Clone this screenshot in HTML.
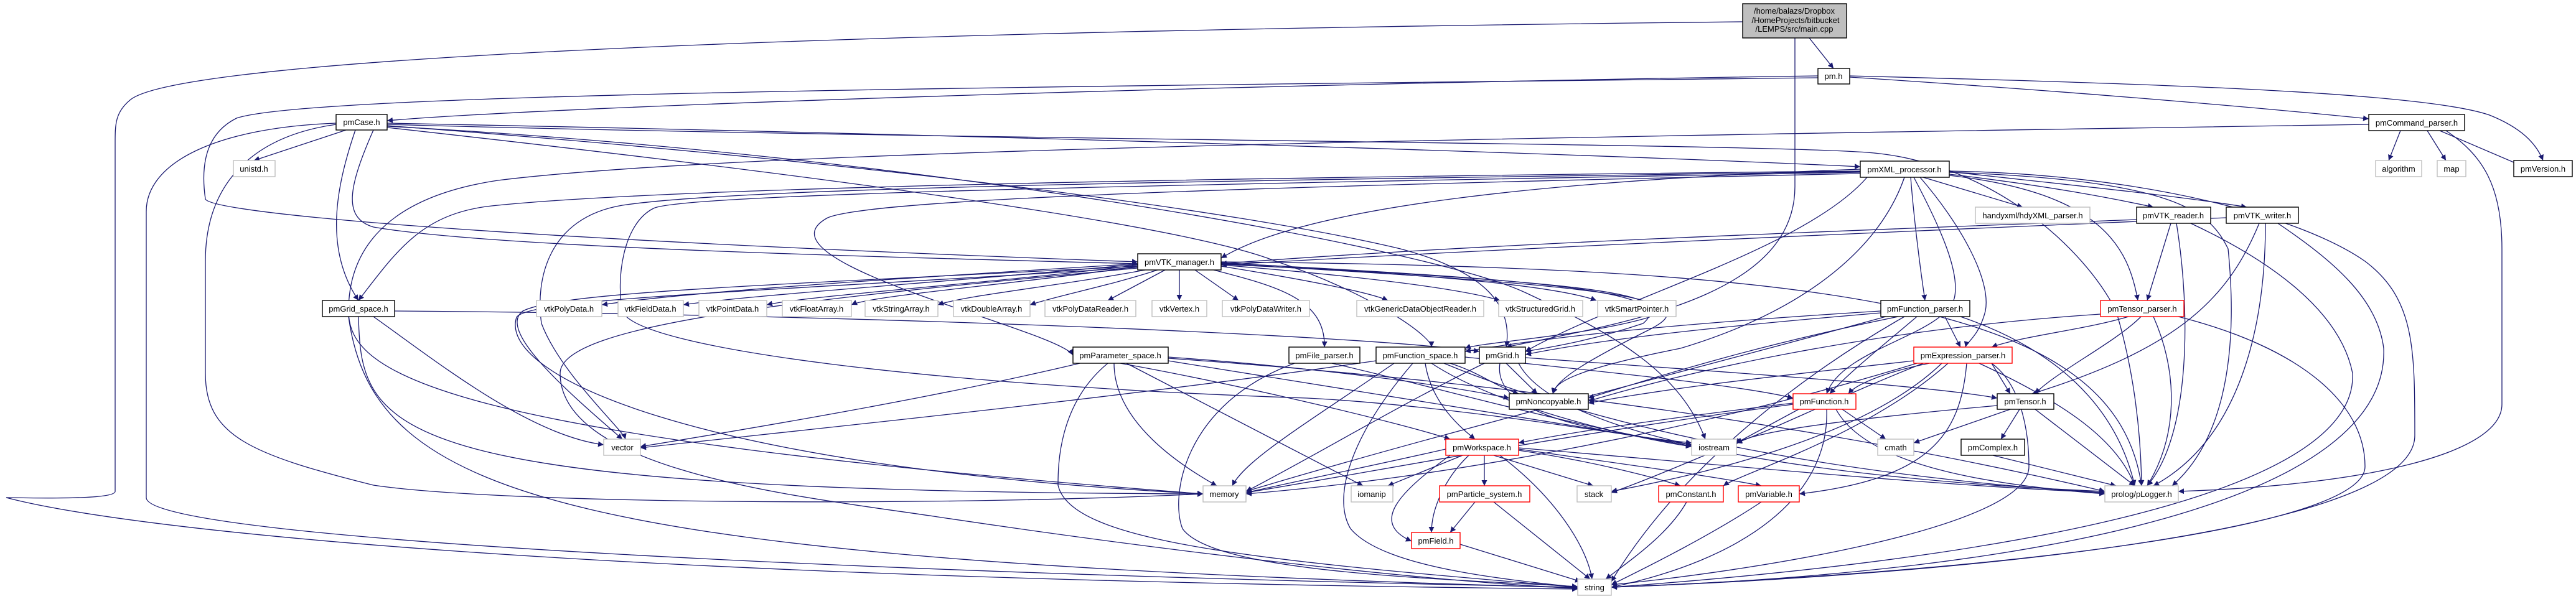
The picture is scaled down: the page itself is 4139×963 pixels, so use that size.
<!DOCTYPE html>
<html><head><meta charset="utf-8"><style>
html,body{margin:0;padding:0;background:#fff;width:4139px;height:963px;overflow:hidden}
svg{display:block}
text{font-family:"Liberation Sans",sans-serif;font-size:13px;fill:#000;text-anchor:middle}
.e{fill:none;stroke:#191970;stroke-width:1.3}
.b{fill:#fff;stroke:#000;stroke-width:1.4}
.g{fill:#fff;stroke:#bfbfbf;stroke-width:1.4}
.r{fill:#fff;stroke:#ff0000;stroke-width:1.4}
</style></head><body>
<svg width="4139" height="963" viewBox="0 0 4139 963" xmlns="http://www.w3.org/2000/svg">
<defs><marker id="a" viewBox="0 0 10 10" refX="10" refY="5" markerWidth="9" markerHeight="9" markerUnits="userSpaceOnUse" orient="auto"><path d="M0,0 L10,5 L0,10 z" fill="#191970"/></marker></defs>
<g class="e" marker-end="url(#a)">
<!-- main -->
<path d="M2907,61 L2946,110"/>
<path d="M2800,35 C1400,50 300,90 210,160 C185,180 185,200 185,230 L185,790 C185,800 120,802 10,800 C200,850 900,930 2535,947"/>
<path d="M2884,61 L2884,300 C2884,480 2600,520 2420,558"/>
<!-- pm -->
<path d="M2921,122 C2000,135 900,170 622,194"/>
<path d="M2972,124 C3300,145 3600,170 3806,191"/>
<path d="M2972,122 C3500,135 3900,150 4000,185 C4050,205 4075,230 4086,258"/>
<path d="M2921,125 C1600,140 500,150 380,190 C340,210 320,250 330,320 C340,340 700,380 1828,421"/>
<!-- pmCase -->
<path d="M556,209 L408,258"/>
<path d="M540,198 C350,205 235,260 235,340 L235,800 C235,870 1500,925 2535,944"/>
<path d="M571,209 C540,300 520,400 576,483"/>
<path d="M600,209 C560,300 550,350 600,365 C800,400 1500,415 1828,424"/>
<path d="M622,198 C1500,215 2500,245 2989,268"/>
<path d="M622,200 C1500,225 2800,230 3000,245 C3200,260 3350,400 3400,500 C3430,600 3440,700 3441,781"/>
<path d="M622,203 C1500,250 2300,400 2450,470 C2600,540 2700,600 2740,706"/>
<path d="M622,202 C1400,260 2000,340 2250,400 C2400,440 2430,500 2420,558"/>
<path d="M540,200 C400,220 330,300 330,420 L330,600 C330,700 400,730 600,780 C800,810 1500,815 1933,794"/>
<path d="M622,205 C1300,280 1900,360 2050,420 C2200,470 2300,540 2300,558"/>
<!-- cmd -->
<path d="M3857,210 L3838,258"/>
<path d="M3900,210 L3930,258"/>
<path d="M3920,210 L4060,270"/>
<path d="M3930,210 C3990,250 4020,300 4020,400 L4020,650 C4020,730 3800,780 3500,790"/>
<path d="M3806,200 C2500,220 1200,240 800,290 C600,320 560,420 560,500 C560,600 700,700 1933,794"/>
<!-- xml -->
<path d="M3090,285 L3250,333"/>
<path d="M3132,280 C3300,300 3400,320 3460,333"/>
<path d="M3132,276 C3350,300 3500,315 3610,333"/>
<path d="M3070,285 C3075,350 3085,430 3093,483"/>
<path d="M3132,282 C3380,310 3420,400 3435,483"/>
<path d="M3085,285 C3150,360 3200,450 3190,500 C3180,540 3160,550 3158,558"/>
<path d="M3075,285 C3120,370 3150,440 3140,480 C3120,540 2960,560 2935,633"/>
<path d="M3132,277 C3500,290 3550,340 3580,400 C3600,600 3560,720 3490,781"/>
<path d="M3132,275 C3450,280 3700,350 3800,420 C3880,480 3880,560 3880,700 C3880,870 3000,930 2589,944"/>
<path d="M2989,272 C2500,290 2100,330 1962,415"/>
<path d="M2989,275 C2000,285 1100,300 800,330 C680,340 640,400 576,483"/>
<path d="M2989,276 C2000,290 1200,300 1000,330 C880,350 860,450 870,520 C900,600 1000,690 1005,706"/>
<path d="M2989,277 C2000,295 1100,310 1050,335 C1000,360 990,450 1000,500 C1020,560 1500,620 2100,640 C2300,650 2560,690 2718,715"/>
<path d="M3060,285 C3020,400 2900,500 2700,560 C2500,600 2500,620 2495,633"/>
<path d="M2989,279 C2000,300 1400,320 1330,350 C1200,420 1700,530 1724,571"/>
<path d="M3000,285 C2900,400 2600,480 2451,565"/>
<!-- vtk reader/writer -->
<path d="M3433,353 C3000,370 2400,390 1962,424"/>
<path d="M3577,350 C3100,370 2400,400 1962,426"/>
<path d="M3488,359 L3450,483"/>
<path d="M3497,359 C3520,500 3520,700 3450,781"/>
<path d="M3520,359 C3650,420 3760,500 3780,600 C3790,800 3200,900 2589,944"/>
<path d="M3630,359 C3580,480 3500,560 3265,633"/>
<path d="M3640,359 C3640,500 3610,700 3460,781"/>
<path d="M3660,359 C3750,420 3820,480 3830,560 C3840,800 3300,920 2589,944"/>
<!-- vtk manager -->
<path d="M1828,424 C1400,450 1100,470 967,490"/>
<path d="M1828,425 C1500,455 1200,475 1098,490"/>
<path d="M1828,426 C1600,455 1300,475 1232,490"/>
<path d="M1828,428 C1650,455 1400,475 1368,490"/>
<path d="M1840,434 C1700,460 1550,475 1507,490"/>
<path d="M1860,434 C1780,460 1700,475 1655,490"/>
<path d="M1872,434 L1780,483"/>
<path d="M1895,434 L1895,483"/>
<path d="M1920,434 L1990,483"/>
<path d="M1962,428 C2100,450 2200,470 2230,483"/>
<path d="M1962,426 C2200,445 2350,465 2410,483"/>
<path d="M1962,425 C2300,440 2500,460 2565,483"/>
<path d="M1950,434 C2050,460 2130,480 2128,558"/>
<path d="M1828,428 C1200,460 900,470 840,500 C800,530 900,620 1000,706"/>
<path d="M1828,430 C1200,470 850,480 830,510 C800,600 1100,750 1933,794"/>
<path d="M1962,421 C3000,430 3400,500 3441,781"/>
<path d="M1962,423 C2500,450 2700,470 2640,520 C2550,550 2480,560 2451,565"/>
<path d="M1962,424 C2600,460 2750,480 2650,530 C2550,580 2500,610 2495,633"/>
<path d="M1962,422 C2400,450 2700,460 2650,510 C2550,540 2380,550 2354,560"/>
<path d="M1828,431 C1300,480 900,520 900,600 C900,760 1300,800 1500,830 C1900,890 2300,935 2535,946"/>
<!-- grid space -->
<path d="M600,509 C700,580 850,700 970,715"/>
<path d="M576,509 C580,700 620,790 1933,794"/>
<path d="M634,500 C1400,505 2200,540 2377,565"/>
<path d="M560,509 C600,800 900,900 2535,945"/>
<!-- function parser -->
<path d="M3125,509 L3150,558"/>
<path d="M3080,509 C3020,560 2970,600 2940,633"/>
<path d="M3022,500 C2700,520 2500,540 2354,565"/>
<path d="M3022,503 C2700,530 2550,550 2451,570"/>
<path d="M3050,509 C2800,560 2650,610 2552,640"/>
<path d="M3150,509 C3300,560 3400,650 3430,781"/>
<path d="M3060,509 C2900,600 2700,750 2589,935"/>
<path d="M3030,509 C2700,600 2300,700 2002,790"/>
<!-- tensor parser -->
<path d="M3420,509 C3350,530 3250,540 3200,558"/>
<path d="M3440,509 C3400,550 3300,600 3270,633"/>
<path d="M3460,509 C3500,600 3500,700 3450,781"/>
<path d="M3500,509 C3700,560 3800,650 3800,750 C3800,850 3200,920 2589,944"/>
<path d="M3375,505 C3000,530 2700,600 2552,645"/>
<!-- parameter space -->
<path d="M1735,584 C1500,640 1200,690 1029,718"/>
<path d="M1790,584 C1790,680 1900,750 1955,781"/>
<path d="M1810,584 L2190,781"/>
<path d="M1780,584 C1700,650 1700,750 1700,780 C1720,870 2000,900 2535,944"/>
<path d="M1800,584 C2000,620 2250,680 2330,706"/>
<path d="M1877,580 C2200,630 2500,680 2718,715"/>
<path d="M1877,576 C2500,620 3000,700 3382,790"/>
<path d="M1877,574 C2100,590 2300,615 2425,640"/>
<!-- file parser -->
<path d="M2080,584 C1900,650 1880,800 1900,850 C1950,920 2300,930 2535,943"/>
<path d="M2140,584 C2300,620 2500,680 2718,717"/>
<!-- function space -->
<path d="M2290,584 C2300,650 2350,690 2370,706"/>
<path d="M2240,584 C2100,680 2000,740 1980,781"/>
<path d="M2270,584 C2170,700 2140,800 2170,850 C2220,910 2400,930 2535,944"/>
<path d="M2211,580 C1800,640 1300,690 1029,720"/>
<path d="M2300,584 C2400,650 2600,700 2718,718"/>
<path d="M2320,584 C2600,700 3000,770 3382,792"/>
<path d="M2330,584 C2380,600 2400,620 2440,633"/>
<path d="M2354,574 C2600,600 2800,620 2881,640"/>
<!-- grid -->
<path d="M2420,584 L2470,633"/>
<path d="M2451,575 C2800,600 3100,620 3209,640"/>
<path d="M2410,584 C2400,650 2500,690 2718,712"/>
<path d="M2385,584 C2250,650 2100,740 2002,790"/>
<path d="M2440,584 C2500,700 2900,770 3382,790"/>
<!-- expression parser -->
<path d="M3100,584 C3020,600 2980,620 2970,633"/>
<path d="M3075,580 C2900,600 2700,620 2552,648"/>
<path d="M3200,584 L3230,633"/>
<path d="M3090,584 C2950,640 2850,690 2790,712"/>
<path d="M3080,584 C2700,700 2300,770 2002,794"/>
<path d="M3120,584 C3000,700 2750,760 2589,790"/>
<path d="M3130,584 C3000,700 2800,760 2769,781"/>
<path d="M3160,584 C3150,700 3100,770 2891,794"/>
<path d="M3180,584 C3300,640 3400,700 3430,781"/>
<path d="M3200,584 C3250,620 3260,700 3260,750 C3260,850 2800,920 2589,940"/>
<!-- function -->
<path d="M2960,658 L3030,706"/>
<path d="M2950,658 C3000,750 3200,780 3382,794"/>
<path d="M2935,658 C2940,800 2800,900 2589,944"/>
<path d="M2890,658 L2790,712"/>
<path d="M2881,650 C2500,700 2200,760 2002,792"/>
<path d="M2881,648 C2700,670 2550,690 2440,712"/>
<!-- tensor -->
<path d="M3230,658 L3075,712"/>
<path d="M3245,658 L3215,706"/>
<path d="M3270,658 L3430,781"/>
<path d="M3209,652 C2900,680 2800,700 2790,714"/>
<path d="M3202,732 L3400,781"/>
<!-- workspace -->
<path d="M2385,732 L2385,781"/>
<path d="M2360,732 C2320,770 2300,820 2300,856"/>
<path d="M2400,732 L2560,781"/>
<path d="M2410,732 C2500,800 2550,880 2558,931"/>
<path d="M2350,732 L2230,781"/>
<path d="M2323,722 C2200,750 2100,770 2002,792"/>
<path d="M2440,724 C2550,740 2650,765 2700,781"/>
<path d="M2440,722 C2600,745 2750,765 2830,781"/>
<path d="M2440,720 C2800,750 3100,780 3382,792"/>
<path d="M2330,732 C2250,790 2200,840 2268,870"/>
<!-- particle / field / constant / variable -->
<path d="M2370,807 L2330,856"/>
<path d="M2400,807 L2555,931"/>
<path d="M2346,875 L2540,935"/>
<path d="M2710,807 C2680,860 2620,900 2580,931"/>
<path d="M2830,807 C2750,860 2650,910 2589,940"/>
<path d="M2770,719 C2720,740 2650,770 2589,792"/>
</g>
<!-- nodes -->
<rect x="2800" y="6" width="167" height="55" fill="#bfbfbf" stroke="#000" stroke-width="1.4"/>
<text x="2883" y="22">/home/balazs/Dropbox</text>
<text x="2885" y="37">/HomeProjects/bitbucket</text>
<text x="2883" y="51">/LEMPS/src/main.cpp</text>
<g>
<rect class="b" x="2921" y="110" width="51" height="25"/><text x="2946" y="127">pm.h</text>
<rect class="b" x="540" y="184" width="82" height="25"/><text x="581" y="201">pmCase.h</text>
<rect class="b" x="3806" y="184" width="154" height="26"/><text x="3883" y="202">pmCommand_parser.h</text>
<rect class="g" x="375" y="258" width="67" height="26"/><text x="408" y="276">unistd.h</text>
<rect class="b" x="2989" y="259" width="143" height="26"/><text x="3060" y="277">pmXML_processor.h</text>
<rect class="g" x="3817" y="258" width="74" height="26"/><text x="3854" y="276">algorithm</text>
<rect class="g" x="3916" y="258" width="46" height="26"/><text x="3939" y="276">map</text>
<rect class="b" x="4039" y="258" width="94" height="26"/><text x="4086" y="276">pmVersion.h</text>
<rect class="g" x="3174" y="333" width="184" height="26"/><text x="3266" y="351">handyxml/hdyXML_parser.h</text>
<rect class="b" x="3433" y="333" width="119" height="26"/><text x="3492" y="351">pmVTK_reader.h</text>
<rect class="b" x="3577" y="333" width="116" height="26"/><text x="3635" y="351">pmVTK_writer.h</text>
<rect class="b" x="1828" y="408" width="134" height="26"/><text x="1895" y="426">pmVTK_manager.h</text>
<rect class="b" x="518" y="483" width="116" height="26"/><text x="576" y="501">pmGrid_space.h</text>
<rect class="g" x="862" y="483" width="105" height="26"/><text x="914" y="501">vtkPolyData.h</text>
<rect class="g" x="993" y="483" width="105" height="26"/><text x="1045" y="501">vtkFieldData.h</text>
<rect class="g" x="1123" y="483" width="109" height="26"/><text x="1177" y="501">vtkPointData.h</text>
<rect class="g" x="1257" y="483" width="111" height="26"/><text x="1312" y="501">vtkFloatArray.h</text>
<rect class="g" x="1390" y="483" width="117" height="26"/><text x="1448" y="501">vtkStringArray.h</text>
<rect class="g" x="1532" y="483" width="123" height="26"/><text x="1593" y="501">vtkDoubleArray.h</text>
<rect class="g" x="1679" y="483" width="146" height="26"/><text x="1752" y="501">vtkPolyDataReader.h</text>
<rect class="g" x="1851" y="483" width="88" height="26"/><text x="1895" y="501">vtkVertex.h</text>
<rect class="g" x="1964" y="483" width="140" height="26"/><text x="2034" y="501">vtkPolyDataWriter.h</text>
<rect class="g" x="2180" y="483" width="204" height="26"/><text x="2282" y="501">vtkGenericDataObjectReader.h</text>
<rect class="g" x="2408" y="483" width="135" height="26"/><text x="2475" y="501">vtkStructuredGrid.h</text>
<rect class="g" x="2567" y="483" width="126" height="26"/><text x="2630" y="501">vtkSmartPointer.h</text>
<rect class="b" x="3022" y="483" width="143" height="26"/><text x="3093" y="501">pmFunction_parser.h</text>
<rect class="r" x="3375" y="483" width="134" height="26"/><text x="3442" y="501">pmTensor_parser.h</text>
<rect class="b" x="1724" y="558" width="153" height="26"/><text x="1800" y="576">pmParameter_space.h</text>
<rect class="b" x="2071" y="558" width="114" height="26"/><text x="2128" y="576">pmFile_parser.h</text>
<rect class="b" x="2211" y="558" width="143" height="26"/><text x="2282" y="576">pmFunction_space.h</text>
<rect class="b" x="2377" y="558" width="74" height="26"/><text x="2414" y="576">pmGrid.h</text>
<rect class="r" x="3075" y="558" width="158" height="26"/><text x="3154" y="576">pmExpression_parser.h</text>
<rect class="b" x="2425" y="633" width="127" height="25"/><text x="2488" y="650">pmNoncopyable.h</text>
<rect class="r" x="2881" y="633" width="101" height="25"/><text x="2931" y="650">pmFunction.h</text>
<rect class="b" x="3209" y="633" width="91" height="25"/><text x="3254" y="650">pmTensor.h</text>
<rect class="g" x="970" y="706" width="59" height="26"/><text x="1000" y="724">vector</text>
<rect class="r" x="2323" y="706" width="117" height="26"/><text x="2381" y="724">pmWorkspace.h</text>
<rect class="g" x="2718" y="706" width="72" height="26"/><text x="2754" y="724">iostream</text>
<rect class="g" x="3017" y="706" width="58" height="26"/><text x="3046" y="724">cmath</text>
<rect class="b" x="3151" y="706" width="102" height="26"/><text x="3202" y="724">pmComplex.h</text>
<rect class="g" x="1933" y="781" width="69" height="26"/><text x="1967" y="799">memory</text>
<rect class="g" x="2171" y="781" width="67" height="26"/><text x="2204" y="799">iomanip</text>
<rect class="r" x="2313" y="781" width="145" height="26"/><text x="2385" y="799">pmParticle_system.h</text>
<rect class="g" x="2534" y="781" width="55" height="26"/><text x="2561" y="799">stack</text>
<rect class="r" x="2665" y="781" width="104" height="26"/><text x="2717" y="799">pmConstant.h</text>
<rect class="r" x="2793" y="781" width="98" height="26"/><text x="2842" y="799">pmVariable.h</text>
<rect class="g" x="3382" y="781" width="118" height="26"/><text x="3441" y="799">prolog/pLogger.h</text>
<rect class="r" x="2268" y="856" width="78" height="26"/><text x="2307" y="874">pmField.h</text>
<rect class="g" x="2535" y="931" width="54" height="26"/><text x="2562" y="949">string</text>
</g>
</svg>
</body></html>
